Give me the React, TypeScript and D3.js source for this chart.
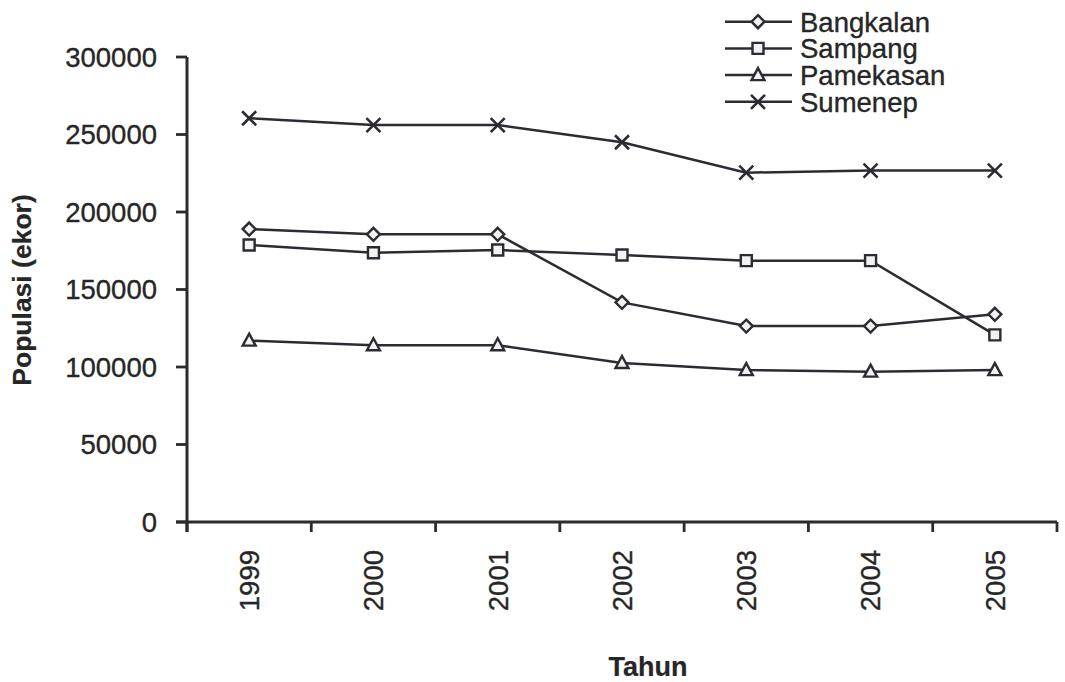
import { useMemo } from "react";
import * as d3 from "d3";

const W = 1065, H = 682;
const PLOT = { left: 187, right: 1057, top: 57, bottom: 522 };
const INK = "#2b2b33";
const TXT = "#262626";
const FONT = "'Liberation Sans', Arial, sans-serif";

const years = ["1999", "2000", "2001", "2002", "2003", "2004", "2005"];
const yTicks = [0, 50000, 100000, 150000, 200000, 250000, 300000];

const bangkalan = [189000, 185600, 185600, 141700, 126400, 126400, 134000];
const sampang = [178700, 173700, 175500, 172300, 168600, 168600, 120700];
const pamekasan = [117000, 114000, 114000, 102600, 98000, 97000, 98000];
const sumenep = [260500, 256100, 256100, 245000, 225400, 226700, 226700];

type Marker = "diamond" | "square" | "triangle" | "cross";

const series: { name: string; values: number[]; marker: Marker }[] = [
  { name: "Bangkalan", values: bangkalan, marker: "diamond" },
  { name: "Sampang", values: sampang, marker: "square" },
  { name: "Pamekasan", values: pamekasan, marker: "triangle" },
  { name: "Sumenep", values: sumenep, marker: "cross" },
];

function markerPath(m: Marker) {
  switch (m) {
    case "diamond": return "M0,-6.5L6.5,0L0,6.5L-6.5,0Z";
    case "square": return "M-5.5,-5.5H5.5V5.5H-5.5Z";
    case "triangle": return "M0,-7L6.5,5L-6.5,5Z";
    case "cross": return "M-7,-7L7,7M-7,7L7,-7";
  }
}

function MarkerShape({ m, x, y }: { m: Marker; x: number; y: number }) {
  return (
    <path d={markerPath(m)} transform={`translate(${x},${y})`}
      fill={m === "cross" ? "none" : "#f2f2f2"} stroke={INK}
      strokeWidth={m === "cross" ? 2.6 : 2.4} strokeLinejoin="miter" />
  );
}

export default function App() {
  const x = useMemo(() => d3.scaleBand(years, [PLOT.left, PLOT.right]), []);
  const y = useMemo(() => d3.scaleLinear([0, 300000], [PLOT.bottom, PLOT.top]), []);
  const cx = (yr: string) => x(yr)! + x.bandwidth() / 2;

  const line = d3.line<number>()
    .x((_, i) => cx(years[i]))
    .y((v) => y(v));

  const textProps = { fill: TXT, fontFamily: FONT, stroke: TXT, strokeWidth: 0.35 };

  return (
    <svg width={W} height={H}
      style={{ position: "absolute", left: 0, top: 0, background: "#fff" }}>
      {/* series lines */}
      {series.map((s) => (
        <path key={s.name} d={line(s.values) ?? ""} fill="none" stroke={INK} strokeWidth={2.5} />
      ))}
      {series.map((s) =>
        s.values.map((v, i) => (
          <MarkerShape key={`${s.name}-${i}`} m={s.marker} x={cx(years[i])} y={y(v)} />
        ))
      )}

      {/* y axis */}
      <line x1={PLOT.left} y1={PLOT.top} x2={PLOT.left} y2={PLOT.bottom + 10}
        stroke={INK} strokeWidth={3} />
      {yTicks.map((t) => (
        <g key={t}>
          <line x1={PLOT.left - 11} y1={y(t)} x2={PLOT.left} y2={y(t)} stroke={INK} strokeWidth={2.8} />
          <text x={157} y={y(t)} dy="0.36em" textAnchor="end" fontSize={27.5} {...textProps}>{t}</text>
        </g>
      ))}
      <text transform="translate(31,290) rotate(-90)" textAnchor="middle" fontSize={26.5}
        fontWeight="bold" {...textProps} strokeWidth={0.2}>Populasi (ekor)</text>

      {/* x axis */}
      <line x1={PLOT.left - 11} y1={PLOT.bottom} x2={PLOT.right} y2={PLOT.bottom}
        stroke={INK} strokeWidth={3} />
      {[...years.map((yr) => x(yr)!), PLOT.right].map((px, i) => (
        <line key={i} x1={px} y1={PLOT.bottom} x2={px} y2={PLOT.bottom + 10}
          stroke={INK} strokeWidth={2.8} />
      ))}
      {years.map((yr) => (
        <text key={yr} transform={`translate(${cx(yr)},550) rotate(-90)`} dy="0.36em"
          textAnchor="end" fontSize={27.5} {...textProps}>{yr}</text>
      ))}
      <text x={648} y={676} textAnchor="middle" fontSize={27} fontWeight="bold"
        {...textProps} strokeWidth={0.2}>Tahun</text>

      {/* legend */}
      {series.map((s, i) => {
        const ly = 21.7 + i * 26.7;
        return (
          <g key={s.name}>
            <line x1={725} y1={ly} x2={792} y2={ly} stroke={INK} strokeWidth={2.5} />
            <MarkerShape m={s.marker} x={758} y={ly} />
            <text x={800} y={ly} dy="0.36em" fontSize={27.5} {...textProps}>{s.name}</text>
          </g>
        );
      })}
    </svg>
  );
}
